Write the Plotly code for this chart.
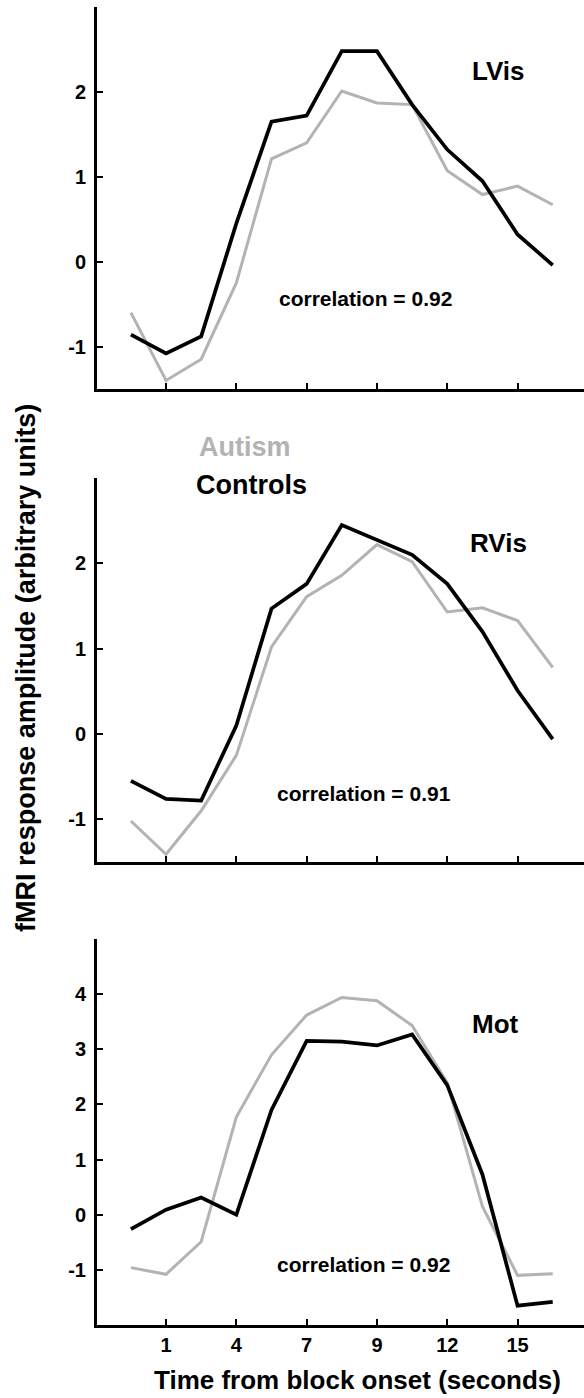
import plotly.graph_objects as go

# ---- data ----
time_index = list(range(13))
tick_positions = [1, 3, 5, 7, 9, 11]
tick_labels = ["1", "4", "7", "9", "12", "15"]

lvis_controls = [-0.86, -1.08, -0.88, 0.45, 1.65, 1.72, 2.48, 2.48, 1.85, 1.32, 0.95, 0.32, -0.04]
lvis_autism = [-0.60, -1.40, -1.15, -0.25, 1.21, 1.40, 2.01, 1.87, 1.85, 1.07, 0.79, 0.89, 0.67]

rvis_controls = [-0.55, -0.76, -0.78, 0.10, 1.47, 1.76, 2.45, 2.27, 2.10, 1.76, 1.20, 0.51, -0.06]
rvis_autism = [-1.02, -1.41, -0.90, -0.25, 1.02, 1.61, 1.86, 2.22, 2.02, 1.43, 1.48, 1.33, 0.78]

mot_controls = [-0.26, 0.09, 0.31, 0.00, 1.90, 3.15, 3.14, 3.07, 3.27, 2.35, 0.73, -1.65, -1.58]
mot_autism = [-0.96, -1.08, -0.49, 1.77, 2.90, 3.62, 3.94, 3.88, 3.43, 2.39, 0.15, -1.10, -1.07]

panel_names = ["LVis", "RVis", "Mot"]
correlations = ["correlation = 0.92", "correlation = 0.91", "correlation = 0.92"]
y_ticks = [[-1, 0, 1, 2], [-1, 0, 1, 2], [-1, 0, 1, 2, 3, 4]]
y_ranges = [[-1.5, 3.0], [-1.5, 3.0], [-2.0, 5.0]]
name_pos = [(10.47, 2.25), (10.47, 2.24), (10.38, 3.45)]
corr_pos = [(6.66, -0.44), (6.62, -0.70), (6.62, -0.90)]

controls = [lvis_controls, rvis_controls, mot_controls]
autism = [lvis_autism, rvis_autism, mot_autism]

GRAY = "#b3b3b3"
FONT = "Liberation Sans, Arial, sans-serif"

domains = [[0.7102, 1.0], [0.3513, 0.6426], [0.0, 0.2929]]

fig = go.Figure()
layout = dict(
    width=584, height=1398,
    margin=dict(l=97, r=0, t=7, b=73),
    paper_bgcolor="white", plot_bgcolor="white",
    showlegend=False,
    font=dict(family=FONT, color="black"),
)
annotations = []
for i in range(3):
    xa = "x" if i == 0 else f"x{i+1}"
    ya = "y" if i == 0 else f"y{i+1}"
    fig.add_trace(go.Scatter(x=time_index, y=autism[i], mode="lines",
                             line=dict(color=GRAY, width=3.0), xaxis=xa, yaxis=ya, name="Autism"))
    fig.add_trace(go.Scatter(x=time_index, y=controls[i], mode="lines",
                             line=dict(color="black", width=3.7), xaxis=xa, yaxis=ya, name="Controls"))
    xkey = "xaxis" if i == 0 else f"xaxis{i+1}"
    ykey = "yaxis" if i == 0 else f"yaxis{i+1}"
    layout[xkey] = dict(
        domain=[0, 1], anchor=ya, range=[-0.964, 12.89],
        showline=True, linecolor="black", linewidth=3,
        ticks="inside", ticklen=6, tickwidth=2.2, tickcolor="black",
        tickvals=tick_positions, ticktext=tick_labels,
        showticklabels=(i == 2), showgrid=False, zeroline=False,
        tickfont=dict(size=20, family=FONT, weight="bold"),
        ticklabelstandoff=0,
    )
    layout[ykey] = dict(
        domain=domains[i], anchor=xa, range=y_ranges[i],
        showline=True, linecolor="black", linewidth=3,
        ticks="inside", ticklen=6, tickwidth=2.2, tickcolor="black",
        tickvals=y_ticks[i], ticktext=[str(v) for v in y_ticks[i]],
        showgrid=False, zeroline=False,
        tickfont=dict(size=20, family=FONT, weight="bold"),
        ticklabelstandoff=4,
    )
    annotations.append(dict(x=name_pos[i][0], y=name_pos[i][1], xref=xa, yref=ya,
                            xanchor="center", yanchor="middle",
                            text=f"<b>{panel_names[i]}</b>", showarrow=False,
                            font=dict(size=26, family=FONT, color="black")))
    annotations.append(dict(x=corr_pos[i][0], y=corr_pos[i][1], xref=xa, yref=ya,
                            xanchor="center", yanchor="middle",
                            text=f"<b>{correlations[i]}</b>", showarrow=False,
                            font=dict(size=21, family=FONT, color="black")))

annotations.append(dict(x=0.205, y=0.666, xref="paper", yref="paper", xanchor="left", yanchor="middle",
                        text="<b>Autism</b>", showarrow=False,
                        font=dict(size=27, family=FONT, color=GRAY)))
annotations.append(dict(x=0.199, y=0.637, xref="paper", yref="paper", xanchor="left", yanchor="middle",
                        text="<b>Controls</b>", showarrow=False,
                        font=dict(size=27, family=FONT, color="black")))
annotations.append(dict(x=-0.146, y=0.4985, xref="paper", yref="paper",
                        xanchor="center", yanchor="middle",
                        text="<b>fMRI response amplitude (arbitrary units)</b>", textangle=-90,
                        showarrow=False, font=dict(size=27, family=FONT, color="black")))
annotations.append(dict(x=0.534, y=-0.0417, xref="paper", yref="paper",
                        xanchor="center", yanchor="middle",
                        text="<b>Time from block onset (seconds)</b>",
                        showarrow=False, font=dict(size=26, family=FONT, color="black")))
layout["annotations"] = annotations
fig.update_layout(**layout)
fig.write_html("out.html")
